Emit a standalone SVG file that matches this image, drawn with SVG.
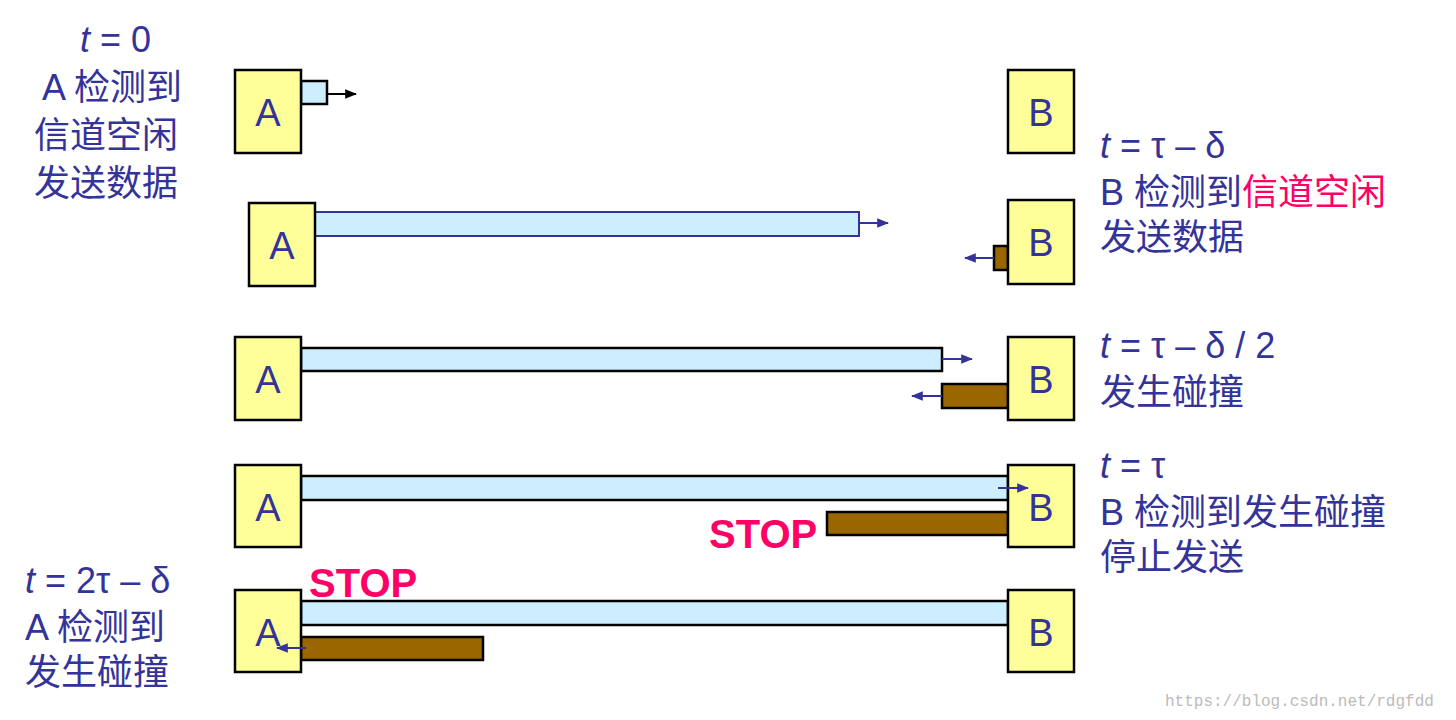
<svg xmlns="http://www.w3.org/2000/svg" width="1456" height="720" viewBox="0 0 1456 720">
<defs>
<style>
.node{fill:#ffff99;stroke:#000;stroke-width:2.5}
.nl{font-family:"Liberation Sans",Arial,sans-serif;font-size:38px;fill:#333399;text-anchor:middle}
.bar{fill:#cceeff;stroke:#333399;stroke-width:2}
.bar0{fill:#cceeff;stroke:#000;stroke-width:2.5}
.br{fill:#996600;stroke:#000;stroke-width:2.5}
.t{font-family:"Liberation Sans","Noto Sans CJK SC",sans-serif;font-size:36px;fill:#333399}
.stop{font-family:"Liberation Sans",Arial,sans-serif;font-size:40px;font-weight:bold;fill:#ff0066}
.ar{stroke:#333399;stroke-width:2;fill:none;marker-end:url(#m)}
</style>
<marker id="m" viewBox="0 0 10 10" refX="9" refY="5" markerWidth="6" markerHeight="6" orient="auto"><path d="M0,1 L10,5 L0,9 z" fill="#333399"/></marker>
<marker id="mk" viewBox="0 0 10 10" refX="9" refY="5" markerWidth="6" markerHeight="6" orient="auto"><path d="M0,1 L10,5 L0,9 z" fill="#000"/></marker>
</defs>
<rect width="1456" height="720" fill="#fff"/>
<g id="bars">
<rect class="bar0" x="301" y="81" width="26" height="23"/>
<rect class="bar" x="315" y="212" width="544" height="24"/>
<rect class="br" x="994" y="246" width="14" height="24"/>
<rect class="bar0" x="301" y="348" width="641" height="23"/>
<rect class="br" x="942" y="384" width="66" height="24"/>
<rect class="bar0" x="301" y="476" width="707" height="24"/>
<rect class="br" x="827" y="512" width="181" height="23"/>
<rect class="bar0" x="301" y="601" width="707" height="24"/>
<rect class="br" x="301" y="637" width="182" height="23"/>
</g>
<g id="n1a"><rect class="node" x="235" y="70" width="66" height="83"/><text class="nl" x="268" y="126">A</text></g>
<g id="n1b"><rect class="node" x="1008" y="70" width="66" height="83"/><text class="nl" x="1041" y="126">B</text></g>
<g id="n2a"><rect class="node" x="249" y="203" width="66" height="83"/><text class="nl" x="282" y="259">A</text></g>
<g id="n2b"><rect class="node" x="1008" y="200" width="66" height="84"/><text class="nl" x="1041" y="256">B</text></g>
<g id="n3a"><rect class="node" x="235" y="337" width="66" height="83"/><text class="nl" x="268" y="393">A</text></g>
<g id="n3b"><rect class="node" x="1008" y="337" width="66" height="83"/><text class="nl" x="1041" y="393">B</text></g>
<g id="n4a"><rect class="node" x="235" y="465" width="66" height="82"/><text class="nl" x="268" y="521">A</text></g>
<g id="n4b"><rect class="node" x="1008" y="465" width="66" height="82"/><text class="nl" x="1041" y="521">B</text></g>
<g id="n5a"><rect class="node" x="235" y="590" width="66" height="82"/><text class="nl" x="268" y="646">A</text></g>
<g id="n5b"><rect class="node" x="1008" y="590" width="66" height="82"/><text class="nl" x="1041" y="646">B</text></g>
<g id="connectors">
<line x1="327" y1="94" x2="356" y2="94" stroke="#000" stroke-width="2" marker-end="url(#mk)"/>
<line class="ar" x1="859" y1="223" x2="888" y2="223"/>
<line class="ar" x1="994" y1="258" x2="965" y2="258"/>
<line class="ar" x1="942" y1="359" x2="972" y2="359"/>
<line class="ar" x1="942" y1="396" x2="912" y2="396"/>
<line class="ar" x1="998" y1="488" x2="1028" y2="488"/>
<line class="ar" x1="306" y1="648" x2="277" y2="648"/>
</g>
<g id="labels">
<text class="t" x="80" y="52"><tspan font-style="italic">t</tspan> = 0</text>
<text class="t" x="42" y="100">A 检测到</text>
<text class="t" x="34" y="148">信道空闲</text>
<text class="t" x="34" y="196">发送数据</text>
<text class="t" x="1100" y="158"><tspan font-style="italic">t</tspan> = τ – δ</text>
<text class="t" x="1100" y="205">B 检测到<tspan fill="#ff0066">信道空闲</tspan></text>
<text class="t" x="1100" y="250">发送数据</text>
<text class="t" x="1100" y="358"><tspan font-style="italic">t</tspan> = τ – δ / 2</text>
<text class="t" x="1100" y="405">发生碰撞</text>
<text class="t" x="1100" y="478"><tspan font-style="italic">t</tspan> = τ</text>
<text class="t" x="1100" y="525">B 检测到发生碰撞</text>
<text class="t" x="1100" y="570">停止发送</text>
<text class="t" x="25" y="593"><tspan font-style="italic">t</tspan> = 2τ – δ</text>
<text class="t" x="25" y="640">A 检测到</text>
<text class="t" x="25" y="685">发生碰撞</text>
<text class="stop" x="709" y="548">STOP</text>
<text class="stop" x="309" y="597">STOP</text>
<text x="1165" y="706" font-family="Liberation Mono,monospace" font-size="16" fill="#bbb">https://blog.csdn.net/rdgfdd</text>
</g>
</svg>
